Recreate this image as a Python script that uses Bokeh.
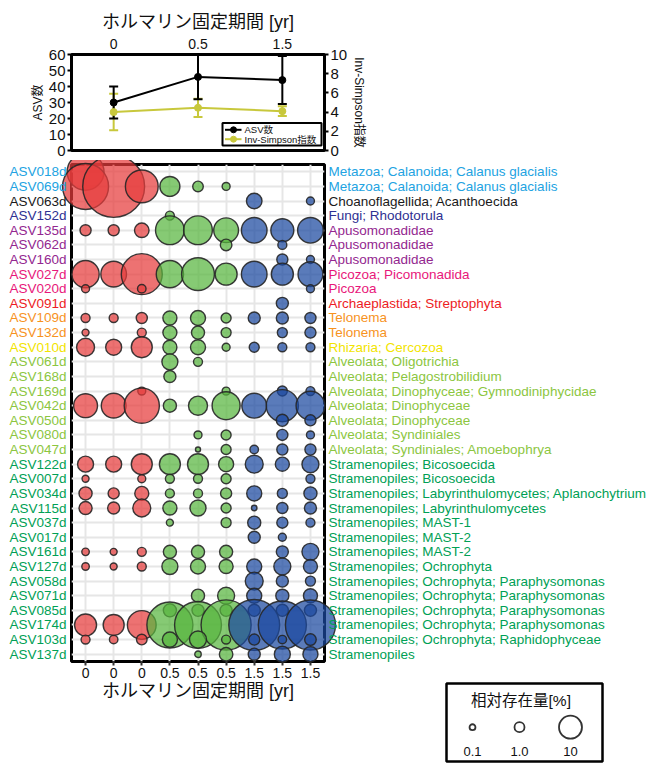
import math
import numpy as np
from bokeh.plotting import figure
from bokeh.models import (ColumnDataSource, Range1d, LinearAxis, FixedTicker,
                          Whisker, TeeHead)
from bokeh.layouts import column
from bokeh.embed import file_html
from bokeh.resources import INLINE
from bokeh.core.properties import value

# ---------------- data ----------------
sample_years = ["0", "0", "0", "0.5", "0.5", "0.5", "1.5", "1.5", "1.5"]
period_labels = ["0", "0.5", "1.5"]
asv_count_mean = [30, 46, 44]
asv_count_sd = [10, 14, 15]
invsimpson_mean = [4.0, 4.45, 4.1]
invsimpson_sd = [1.9, 0.95, 0.5]
series_names = ["ASV数", "Inv-Simpson指数"]

asv_ids = ["ASV018d", "ASV069d", "ASV063d", "ASV152d", "ASV135d", "ASV062d",
           "ASV160d", "ASV027d", "ASV020d", "ASV091d", "ASV109d", "ASV132d",
           "ASV010d", "ASV061d", "ASV168d", "ASV169d", "ASV042d", "ASV050d",
           "ASV080d", "ASV047d", "ASV122d", "ASV007d", "ASV034d", "ASV115d",
           "ASV037d", "ASV017d", "ASV161d", "ASV127d", "ASV058d", "ASV071d",
           "ASV085d", "ASV174d", "ASV103d", "ASV137d"]
taxa = ["Metazoa; Calanoida; Calanus glacialis",
        "Metazoa; Calanoida; Calanus glacialis",
        "Choanoflagellida; Acanthoecida",
        "Fungi; Rhodotorula",
        "Apusomonadidae", "Apusomonadidae", "Apusomonadidae",
        "Picozoa; Picomonadida", "Picozoa",
        "Archaeplastida; Streptophyta",
        "Telonema", "Telonema",
        "Rhizaria; Cercozoa",
        "Alveolata; Oligotrichia",
        "Alveolata; Pelagostrobilidium",
        "Alveolata; Dinophyceae; Gymnodiniphycidae",
        "Alveolata; Dinophyceae", "Alveolata; Dinophyceae",
        "Alveolata; Syndiniales",
        "Alveolata; Syndiniales; Amoebophrya",
        "Stramenopiles; Bicosoecida", "Stramenopiles; Bicosoecida",
        "Stramenopiles; Labyrinthulomycetes; Aplanochytrium",
        "Stramenopiles; Labyrinthulomycetes",
        "Stramenopiles; MAST-1", "Stramenopiles; MAST-2", "Stramenopiles; MAST-2",
        "Stramenopiles; Ochrophyta",
        "Stramenopiles; Ochrophyta; Paraphysomonas",
        "Stramenopiles; Ochrophyta; Paraphysomonas",
        "Stramenopiles; Ochrophyta; Paraphysomonas",
        "Stramenopiles; Ochrophyta; Paraphysomonas",
        "Stramenopiles; Ochrophyta; Raphidophyceae",
        "Stramenopiles"]
supergroup = ["Metazoa", "Metazoa", "Choanoflagellida", "Fungi",
              "Apusomonadidae", "Apusomonadidae", "Apusomonadidae",
              "Picozoa", "Picozoa", "Archaeplastida", "Telonema", "Telonema",
              "Rhizaria"] + ["Alveolata"] * 7 + ["Stramenopiles"] * 14
supergroup_colors = {"Metazoa": "#22A3E2", "Choanoflagellida": "#1A1A1A",
                     "Fungi": "#2E3192", "Apusomonadidae": "#93278F",
                     "Picozoa": "#E8177A", "Archaeplastida": "#ED1C24",
                     "Telonema": "#F7931E", "Rhizaria": "#F2E400",
                     "Alveolata": "#8CC63F", "Stramenopiles": "#00A055"}

# relative abundance [%] per ASV (rows) and sample (columns); 0 = not detected
abundance = [
    [30, 0, 0, 0, 0, 0, 0, 0, 0],
    [49, 93, 23, 7.1, 1.2, 0.44, 0, 0, 0],
    [0, 0, 0, 0, 0, 0, 3.7, 0, 0.44],
    [0, 0, 0, 0.69, 0, 0, 0, 0, 0],
    [1.4, 1.4, 3.1, 17, 17, 12, 13, 10, 13],
    [0, 0, 0, 0, 0, 1.6, 0, 0.69, 0],
    [0, 0, 0, 0, 0, 0, 0, 1.4, 0.44],
    [15, 13, 38, 15, 23, 9.0, 13, 9.0, 12],
    [0.44, 0, 0.56, 0, 0, 0, 0, 0, 0.44],
    [0, 0, 0, 0, 0, 0, 0, 1.8, 0],
    [0.69, 0.69, 1.4, 2.8, 3.4, 1.0, 1.8, 1.8, 1.4],
    [0.25, 0, 0.69, 2.8, 2.3, 1.0, 0, 1.0, 1.4],
    [5.4, 4.0, 8.0, 2.8, 3.4, 0.44, 1.0, 0.69, 0.69],
    [0, 0, 0, 4.0, 0.69, 0, 0, 0, 0],
    [0, 0, 0, 1.8, 0, 0, 0, 0, 0],
    [0, 0, 0.44, 0, 0, 0.44, 0, 1.0, 0.69],
    [11, 12, 27, 2.3, 6.3, 16, 12, 22, 17],
    [0, 0, 0, 0, 0, 0, 0, 1.8, 1.4],
    [0, 0, 0, 0, 0.44, 1.0, 0, 1.4, 0.44],
    [0, 0, 0, 0, 0.03, 1.0, 0.56, 1.4, 1.4],
    [4.0, 4.0, 8.0, 8.0, 8.0, 3.4, 5.4, 2.8, 4.7],
    [0.25, 0, 0.44, 0.69, 0.69, 1.0, 0, 0, 0.69],
    [2.3, 1.4, 2.8, 0.69, 0.69, 1.4, 3.4, 1.0, 2.3],
    [2.3, 1.8, 5.4, 2.8, 4.0, 1.0, 0.06, 1.4, 1.8],
    [0, 0, 0, 0.25, 0, 1.0, 2.3, 1.4, 0.69],
    [0, 0, 0, 0, 0, 0, 1.8, 0.44, 0],
    [0.34, 0.25, 0.69, 2.3, 2.3, 2.3, 0, 1.8, 4.7],
    [0.34, 0.25, 0.69, 4.0, 3.4, 2.8, 3.4, 4.7, 2.8],
    [0, 0, 0, 0, 0, 0, 5.4, 1.8, 1.0],
    [0, 0, 0, 0, 2.3, 4.7, 3.4, 2.3, 2.8],
    [0, 0, 0, 2.3, 1.8, 1.8, 1.8, 1.8, 1.8],
    [9.0, 8.0, 17, 49, 51, 59, 61, 54, 59],
    [0.69, 0.56, 1.2, 3.4, 4.7, 0.69, 1.4, 0.56, 1.6],
    [0, 0, 0, 0, 0.17, 2.5, 1.8, 4.0, 3.4],
]
legend_values = [0.1, 1.0, 10]
legend_labels = ["0.1", "1.0", "10"]

# ---------------- styling ----------------
FONT = "Liberation Sans"
MIX = "Liberation Sans, Noto Sans CJK JP"
W = 648
LEFT, FRAME_W = 71, 253
RIGHT = W - LEFT - FRAME_W
FRAME_H = 497
TOP_H, TOP_B_TOP, TOP_B_BOT = 160, 54, 10
TOP_FRAME_H = TOP_H - TOP_B_TOP - TOP_B_BOT
MAIN_H, MAIN_B_TOP = 610, 4
N = len(sample_years)
NR = len(asv_ids)
XR = (0.5, N + 0.5)
YG = "#C8C83C"
period_colors = {"0": "#E63B3B", "0.5": "#58B63E", "1.5": "#1A489F"}


def bubble_size(v):
    return 4 + 6 * np.sqrt(v)


# ---------------- top chart ----------------
gx = [float(np.mean([i + 1 for i, s in enumerate(sample_years) if s == g])) for g in period_labels]

top = figure(width=W, height=TOP_H, x_range=Range1d(*XR), y_range=Range1d(0, 60),
             x_axis_location="above", output_backend="svg", toolbar_location=None,
             min_border_left=LEFT, min_border_right=RIGHT, min_border_top=TOP_B_TOP,
             min_border_bottom=TOP_B_BOT)
top.extra_y_ranges = {"inv": Range1d(0, 10), "py": Range1d(0, TOP_FRAME_H)}
top.extra_x_ranges = {"px": Range1d(0, FRAME_W)}
top.add_layout(LinearAxis(y_range_name="inv", ticker=FixedTicker(ticks=list(range(0, 11, 2))),
                          axis_label=series_names[1]), "right")
top.left[0].ticker = FixedTicker(ticks=list(range(0, 61, 10)))
top.left[0].axis_label = series_names[0]
top.grid.visible = False
top.outline_line_color = "black"
top.outline_line_width = 3
top.background_fill_color = "white"
top.border_fill_color = "white"

for ax in top.left + top.right:
    ax.axis_line_color = None
    ax.major_tick_out = 4
    ax.major_tick_in = 0
    ax.major_tick_line_width = 2
    ax.major_tick_line_color = "black"
    ax.minor_tick_line_color = None
    ax.major_label_text_font = FONT
    ax.major_label_text_font_size = "15px"
    ax.major_label_text_color = "#111111"
    ax.major_label_standoff = 2
    ax.axis_label_text_font = MIX
    ax.axis_label_text_font_size = "12px"
    ax.axis_label_text_font_style = "normal"
    ax.axis_label_text_color = "#111111"
    ax.axis_label_standoff = 2
top.left[0].axis_label_standoff = 1

xa = top.xaxis[0]
xa.ticker = FixedTicker(ticks=gx)
xa.major_label_overrides = {g: lab for g, lab in zip(gx, period_labels)}
xa.axis_label = "ホルマリン固定期間 [yr]"
xa.axis_label_text_font = MIX
xa.axis_label_text_font_size = "18px"
xa.axis_label_text_font_style = "normal"
xa.axis_label_text_color = "#111111"
xa.axis_label_standoff = 4
xa.major_label_text_font = FONT
xa.major_label_text_font_size = "14px"
xa.major_label_text_color = "#111111"
xa.major_label_standoff = 6
xa.axis_line_color = None
xa.major_tick_out = 0
xa.major_tick_in = 0
xa.minor_tick_line_color = None

src_top = ColumnDataSource(dict(
    x=gx, asv=asv_count_mean,
    asv_lo=[m - s for m, s in zip(asv_count_mean, asv_count_sd)],
    asv_hi=[m + s for m, s in zip(asv_count_mean, asv_count_sd)],
    inv=invsimpson_mean,
    inv_lo=[m - s for m, s in zip(invsimpson_mean, invsimpson_sd)],
    inv_hi=[m + s for m, s in zip(invsimpson_mean, invsimpson_sd)],
))
top.line("x", "inv", source=src_top, line_color=YG, line_width=2, y_range_name="inv")
top.add_layout(Whisker(source=src_top, base="x", upper="inv_hi", lower="inv_lo",
                       y_range_name="inv", line_color=YG, line_width=2,
                       upper_head=TeeHead(size=9, line_color=YG, line_width=2),
                       lower_head=TeeHead(size=9, line_color=YG, line_width=2)))
top.scatter("x", "inv", source=src_top, size=7, color=YG, y_range_name="inv")
top.line("x", "asv", source=src_top, line_color="black", line_width=2)
top.add_layout(Whisker(source=src_top, base="x", upper="asv_hi", lower="asv_lo",
                       line_color="black", line_width=2,
                       upper_head=TeeHead(size=9, line_color="black", line_width=2),
                       lower_head=TeeHead(size=9, line_color="black", line_width=2)))
top.scatter("x", "asv", source=src_top, size=7, color="black")

# line legend (pixel coordinates relative to the top frame's lower-left corner)
top.quad(left=[151], right=[250], top=[27.5], bottom=[5], x_range_name="px",
         y_range_name="py", fill_color="white", line_color="black", line_width=2,
         level="overlay")
leg_y = [20.7, 11.3]
leg_c = ["black", YG]
for yy, cc in zip(leg_y, leg_c):
    top.line(x=[153.5, 170], y=[yy, yy], line_color=cc, line_width=2,
             x_range_name="px", y_range_name="py", level="overlay")
top.scatter(x=[162, 162], y=leg_y, size=6, color=leg_c, x_range_name="px",
            y_range_name="py", level="overlay")
top.text(x=[173, 173], y=leg_y, text=series_names, x_range_name="px", y_range_name="py",
         text_align="left", text_baseline="middle", text_font=value(MIX),
         text_font_size="9.5px", text_color="#111111", level="overlay")

# ---------------- bubble chart ----------------
main = figure(width=W, height=MAIN_H, x_range=Range1d(*XR), y_range=Range1d(0.5, NR + 0.5),
              output_backend="svg", toolbar_location=None,
              min_border_left=LEFT, min_border_right=RIGHT, min_border_top=MAIN_B_TOP,
              min_border_bottom=MAIN_H - MAIN_B_TOP - FRAME_H)
main.yaxis.visible = False
main.outline_line_color = "black"
main.outline_line_width = 3
main.background_fill_color = "white"
main.border_fill_color = "white"
main.xgrid.ticker = FixedTicker(ticks=list(range(1, N + 1)))
main.ygrid.ticker = FixedTicker(ticks=list(range(1, NR + 1)))
main.grid.grid_line_color = "#E6E6E6"
main.grid.grid_line_width = 2

bx = main.xaxis[0]
bx.ticker = FixedTicker(ticks=list(range(1, N + 1)))
bx.major_label_overrides = {i + 1: s for i, s in enumerate(sample_years)}
bx.axis_line_color = None
bx.major_tick_out = 4
bx.major_tick_in = 0
bx.major_tick_line_width = 2
bx.major_tick_line_color = "#333333"
bx.minor_tick_line_color = None
bx.major_label_text_font = FONT
bx.major_label_text_font_size = "14px"
bx.major_label_text_color = "#111111"
bx.major_label_standoff = 2
bx.axis_label = "ホルマリン固定期間 [yr]"
bx.axis_label_text_font = MIX
bx.axis_label_text_font_size = "18px"
bx.axis_label_text_font_style = "normal"
bx.axis_label_text_color = "#111111"
bx.axis_label_standoff = 0

bxs, bys, bsz, bcol = [], [], [], []
for i, row in enumerate(abundance):
    for j, v in enumerate(row):
        if v > 0:
            bxs.append(j + 1)
            bys.append(NR - i)
            bsz.append(bubble_size(v))
            bcol.append(period_colors[sample_years[j]])
bsrc = ColumnDataSource(dict(x=bxs, y=bys, size=bsz, color=bcol))
main.scatter("x", "y", size="size", source=bsrc, marker="circle",
             fill_color="color", fill_alpha=0.72, line_color="#262626",
             line_alpha=0.9, line_width=1.4, level="annotation")

label_colors = [supergroup_colors[g] for g in supergroup]
lsrc = ColumnDataSource(dict(y=[NR - i for i in range(NR)], asv=asv_ids, taxon=taxa,
                             color=label_colors, xl=[XR[0]] * NR, xr=[XR[1]] * NR))
main.text(x="xl", y="y", text="asv", source=lsrc, x_offset=-5,
          text_align="right", text_baseline="middle", text_color="color",
          text_font=value(FONT), text_font_size="13.5px", level="annotation")
main.text(x="xr", y="y", text="taxon", source=lsrc, x_offset=4,
          text_align="left", text_baseline="middle", text_color="color",
          text_font=value(FONT), text_font_size="13.5px", level="annotation")

# size legend (pixel coordinates relative to the frame's lower-left corner)
main.extra_x_ranges = {"px": Range1d(0, FRAME_W)}
main.extra_y_ranges = {"py": Range1d(0, FRAME_H)}
main.quad(left=[375], right=[531], top=[-22], bottom=[-100], x_range_name="px",
          y_range_name="py", fill_color="white", line_color="black", line_width=2.5,
          level="annotation")
main.text(x=[449.5], y=[-39], text=["相対存在量[%]"], x_range_name="px", y_range_name="py",
          text_align="center", text_baseline="middle", text_font=value(MIX),
          text_font_size="15.5px", text_color="#111111", level="annotation")
lg_x = [401.0, 448.0, 499.0]
lg_y = -65.7
lg_d = [float(bubble_size(v)) for v in legend_values]
for cx, d in zip(lg_x, lg_d):
    main.quad(left=[cx - d / 2], right=[cx + d / 2], top=[lg_y + d / 2],
              bottom=[lg_y - d / 2], border_radius=int(math.ceil(d / 2)),
              x_range_name="px", y_range_name="py", fill_color="white",
              line_color="#333333", line_width=1.8, level="annotation")
main.text(x=lg_x, y=[-89.7] * 3, text=legend_labels, x_range_name="px", y_range_name="py",
          text_align="center", text_baseline="middle", text_font=value(FONT),
          text_font_size="13px", text_color="#111111", level="annotation")

layout = column(top, main, spacing=0)
open("out.html", "w").write(file_html(layout, INLINE))
